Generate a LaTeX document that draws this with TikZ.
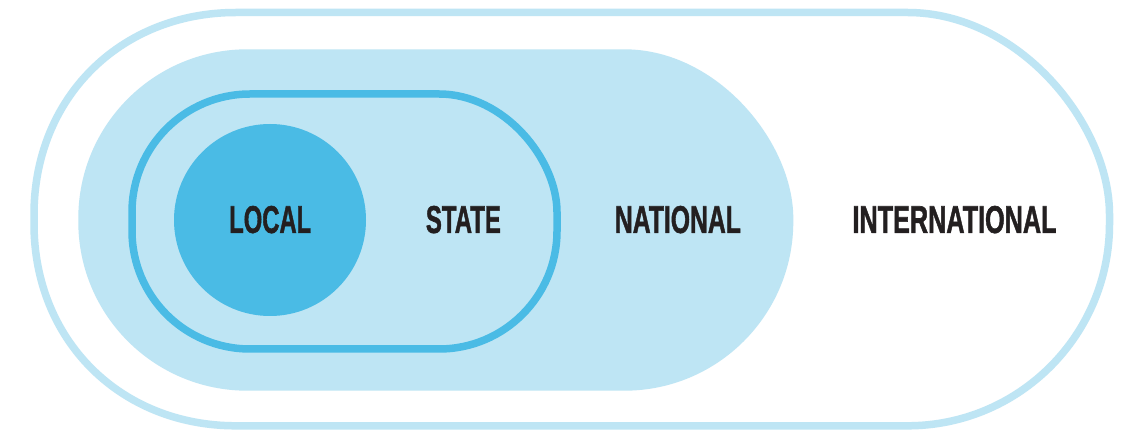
\documentclass[tikz,border=0pt]{standalone}
\usepackage{fontspec}
\usepackage{graphicx}
\newfontface\levelface[FakeBold=1.6]{Liberation Sans Bold}
\definecolor{paleblue}{HTML}{BEE5F4}
\definecolor{midblue}{HTML}{4ABBE5}
\definecolor{ink}{HTML}{231F20}
% condensed bold caption set to a given width and cap height
\newcommand{\levellabel}[2]{\resizebox{#1}{27pt}{\levelface #2}}
% closed track: straight top and bottom, rounded ends of radius #5
% corners (#1,#2) bottom left and (#3,#4) top right;
% #6 and #7 set how full the left and right ends are (0.5523 = circle)
\newcommand{\trackpath}[7]{%
  (#1+#5,#4) -- (#3-#5,#4)
  .. controls (#3-#5+#7*#5,#4) and (#3,#4-#7*#5) .. (#3,#4-#5)
  -- (#3,#2+#5)
  .. controls (#3,#2+#5-#7*#5) and (#3-#5+#7*#5,#2) .. (#3-#5,#2)
  -- (#1+#5,#2)
  .. controls (#1+#5-#6*#5,#2) and (#1,#2+#5-#6*#5) .. (#1,#2+#5)
  -- (#1,#4-#5)
  .. controls (#1,#4-#5+#6*#5) and (#1+#5-#6*#5,#4) .. (#1+#5,#4)
  -- cycle}
\tikzset{
  ring/.style={line width=7.5pt},
  levelname/.style={inner sep=0pt, text=ink, anchor=center}
}
\begin{document}
\begin{tikzpicture}[x=1pt, y=1pt]
  \useasboundingbox (0,0) rectangle (1121,431);
  \fill[white] (0,0) rectangle (1121,431);
  % international: outer outlined track
  \draw[ring, paleblue] \trackpath{34}{5.2}{1109.5}{418.5}{202}{0.575}{0.5523};
  % national: filled track
  \fill[paleblue] \trackpath{78.3}{40.3}{793.3}{381.7}{169}{0.5523}{0.5523};
  % state: outlined track
  \draw[ring, midblue] \trackpath{132}{82}{557}{337}{118}{0.5523}{0.5523};
  % local: filled disc
  \fill[midblue] (270,211) circle[radius=96];
  % level names
  \node[levelname] (local) at (270.2,211.4) {\levellabel{82pt}{LOCAL}};
  \node[levelname] (state) at (463.4,211.4) {\levellabel{75pt}{STATE}};
  \node[levelname] (national) at (677.9,211.4) {\levellabel{126pt}{NATIONAL}};
  \node[levelname] (international) at (954.5,211.4) {\levellabel{204pt}{INTERNATIONAL}};
\end{tikzpicture}
\end{document}
